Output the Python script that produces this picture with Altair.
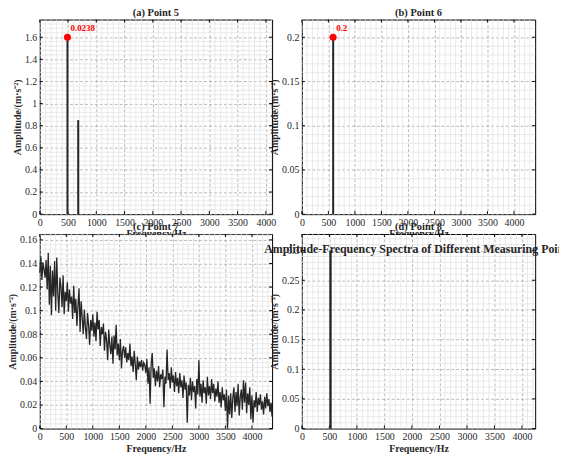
import altair as alt
import pandas as pd

FONT = "Liberation Serif"
INK = "#262626"
RED = "#ff0000"
MINOR = "#e3e3e3"

TITLE_Y = "Amplitude/(m·s⁻²)"
TITLE_X = "Frequency/Hz"
SUPTITLE = "Amplitude-Frequency Spectra of Different Measuring Points"

# ---- data ----
a_freq = [490, 680]
a_amp = [1.6, 0.85]
a_peak_freq = [490]
a_peak_amp = [1.6]
a_peak_label = ["0.0238"]

b_freq = [590]
b_amp = [0.2]
b_peak_label = ["0.2"]

c_step = 20
c_amp = [
    0.132, 0.146, 0.126, 0.141, 0.135, 0.128, 0.143, 0.118, 0.149, 0.105,
    0.138, 0.096, 0.134, 0.112, 0.142, 0.100, 0.145, 0.115, 0.098, 0.128,
    0.120, 0.103, 0.130, 0.097, 0.116, 0.108, 0.124, 0.099, 0.118, 0.106,
    0.112, 0.093, 0.121, 0.098, 0.110, 0.087, 0.104, 0.119, 0.082, 0.108,
    0.094, 0.080, 0.101, 0.086, 0.076, 0.098, 0.088, 0.071, 0.092, 0.083,
    0.097, 0.078, 0.090, 0.074, 0.099, 0.084, 0.092, 0.070, 0.086, 0.080,
    0.089, 0.066, 0.082, 0.075, 0.058, 0.084, 0.071, 0.063, 0.078, 0.055,
    0.079, 0.067, 0.088, 0.062, 0.072, 0.058, 0.076, 0.051, 0.066, 0.070,
    0.060, 0.069, 0.056, 0.064, 0.058, 0.072, 0.053, 0.061, 0.048, 0.066,
    0.055, 0.041, 0.061, 0.050, 0.057, 0.052, 0.058, 0.049, 0.056, 0.054,
    0.047, 0.059, 0.038, 0.052, 0.021, 0.055, 0.064, 0.043, 0.051, 0.036,
    0.049, 0.040, 0.053, 0.035, 0.046, 0.042, 0.050, 0.018, 0.044, 0.038,
    0.067, 0.041, 0.047, 0.034, 0.052, 0.039, 0.045, 0.031, 0.048, 0.036,
    0.043, 0.030, 0.047, 0.035, 0.041, 0.026, 0.045, 0.033, 0.039, 0.005,
    0.037, 0.028, 0.043, 0.024, 0.040, 0.031, 0.036, 0.017, 0.042, 0.029,
    0.058, 0.027, 0.038, 0.022, 0.041, 0.030, 0.035, 0.021, 0.044, 0.028,
    0.036, 0.025, 0.042, 0.030, 0.038, 0.023, 0.034, 0.027, 0.040, 0.022,
    0.031, 0.018, 0.035, 0.024, 0.029, 0.015, 0.033, 0.000, 0.028, 0.012,
    0.030, 0.009, 0.026, 0.035, 0.014, 0.031, 0.019, 0.038, 0.011, 0.027,
    0.033, 0.016, 0.041, 0.022, 0.039, 0.013, 0.030, 0.020, 0.035, 0.008,
    0.028, 0.005, 0.024, 0.018, 0.031, 0.014, 0.026, 0.020, 0.029, 0.016,
    0.023, 0.012, 0.027, 0.017, 0.030, 0.019, 0.025, 0.014, 0.022, 0.010,
]
c_freq = [i * c_step for i in range(len(c_amp))]

d_freq = [520]
d_amp = [0.3]

x_ticks = [0, 500, 1000, 1500, 2000, 2500, 3000, 3500, 4000]
ya_ticks = [0, 0.2, 0.4, 0.6, 0.8, 1.0, 1.2, 1.4, 1.6]
yb_ticks = [0, 0.05, 0.1, 0.15, 0.2]
yc_ticks = [0, 0.02, 0.04, 0.06, 0.08, 0.1, 0.12, 0.14, 0.16]
yd_ticks = [0, 0.05, 0.1, 0.15, 0.2, 0.25, 0.3]

LABEL_EXPR = "format(datum.value, '~g')"


def minor_vals(ticks, dmax):
    step = (ticks[1] - ticks[0]) / 5
    vals = []
    i = 1
    while i * step < dmax:
        if i % 5:
            vals.append(round(i * step, 6))
        i += 1
    return vals


def panel(w, h, xmax, ymax, yt, title, marks, xtitle=TITLE_X):
    xs = alt.Scale(domain=[0, xmax], nice=False, zero=False)
    ys = alt.Scale(domain=[0, ymax], nice=False, zero=False)
    xaxis = alt.Axis(values=x_ticks, title=xtitle, labelExpr=LABEL_EXPR)
    yaxis = alt.Axis(values=yt, title=TITLE_Y, labelExpr=LABEL_EXPR)

    def X(field="f"):
        return alt.X(f"{field}:Q", scale=xs, axis=xaxis)

    def Y(field="a"):
        return alt.Y(f"{field}:Q", scale=ys, axis=yaxis)

    layers = []
    # minor grid
    layers.append(
        alt.Chart(pd.DataFrame({"f": minor_vals(x_ticks, xmax)}))
        .mark_rule(color=MINOR, strokeWidth=0.8)
        .encode(x=X(), y=alt.value(0), y2=alt.value(h))
    )
    layers.append(
        alt.Chart(pd.DataFrame({"a": minor_vals(yt, ymax)}))
        .mark_rule(color=MINOR, strokeWidth=0.8)
        .encode(y=Y(), x=alt.value(0), x2=alt.value(w))
    )
    # inward ticks
    xt_df = pd.DataFrame({"f": x_ticks})
    yt_df = pd.DataFrame({"a": yt})
    tk = dict(color="black", strokeWidth=1)
    layers.append(alt.Chart(xt_df).mark_rule(**tk).encode(x=X(), y=alt.value(h), y2=alt.value(h - 3)))
    layers.append(alt.Chart(xt_df).mark_rule(**tk).encode(x=X(), y=alt.value(0), y2=alt.value(3)))
    layers.append(alt.Chart(yt_df).mark_rule(**tk).encode(y=Y(), x=alt.value(0), x2=alt.value(3)))
    layers.append(alt.Chart(yt_df).mark_rule(**tk).encode(y=Y(), x=alt.value(w), x2=alt.value(w - 3)))
    for m in marks:
        layers.append(m(X, Y, w, h))
    return alt.layer(*layers).properties(width=w, height=h, title=title)


def stems(freq, amp, width=2):
    def f(X, Y, w, h):
        return (
            alt.Chart(pd.DataFrame({"f": freq, "a": amp}))
            .mark_rule(color=INK, strokeWidth=width)
            .encode(x=X(), y=Y(), y2=alt.datum(0))
        )
    return f


def peak(freq, amp, label):
    def f(X, Y, w, h):
        base = alt.Chart(pd.DataFrame({"f": freq, "a": amp, "t": label}))
        dot = base.mark_circle(color=RED, size=50, opacity=1).encode(x=X(), y=Y())
        txt = base.mark_text(
            color=RED, font=FONT, fontWeight="bold", fontSize=9, align="left",
            baseline="middle", dx=3, dy=-9
        ).encode(x=X(), y=Y(), text="t:N")
        return alt.layer(dot, txt)
    return f


def line(freq, amp):
    def f(X, Y, w, h):
        return (
            alt.Chart(pd.DataFrame({"f": freq, "a": amp}))
            .mark_line(color=INK, strokeWidth=1.3)
            .encode(x=X(), y=Y())
        )
    return f


def suptitle(text):
    def f(X, Y, w, h):
        return (
            alt.Chart(pd.DataFrame({"t": [text]}))
            .mark_text(font=FONT, fontWeight="bold", fontSize=12, color=INK,
                       align="center", baseline="alphabetic")
            .encode(x=alt.value(w / 2), y=alt.value(19), text="t:N")
        )
    return f


pa = panel(234, 196, 4110, 1.76, ya_ticks, "(a) Point 5",
           [stems(a_freq, a_amp), peak(a_peak_freq, a_peak_amp, a_peak_label)])
pb = panel(235, 196, 4400, 0.22, yb_ticks, "(b) Point 6",
           [stems(b_freq, b_amp), peak(b_freq, b_amp, b_peak_label)])
pc = panel(234, 196, 4380, 0.165, yc_ticks, "(c) Point 7",
           [line(c_freq, c_amp)])
pd_ = panel(235, 196, 4240, 0.328, yd_ticks, "(d) Point 8",
            [stems(d_freq, d_amp, 2.4), suptitle(SUPTITLE)])

chart = (
    alt.concat(pa, pb, pc, pd_, columns=2, spacing={"row": 20, "column": 30}, bounds="flush")
    .properties(padding={"left": -1, "top": -3, "right": -15, "bottom": 0})
    .configure_view(stroke="black", strokeWidth=1, fill="white")
    .configure_axis(
        labelFont=FONT, labelFontSize=10, labelColor=INK,
        titleFont=FONT, titleFontSize=10, titleFontWeight="bold", titleColor=INK,
        domain=False, ticks=False, labelPadding=3, titlePadding=2,
        grid=True, gridColor="#9a9a9a", gridDash=[3, 2], gridWidth=0.7,
        labelFlush=False, labelOverlap=False,
    )
    .configure_title(font=FONT, fontSize=10.5, fontWeight="bold", color=INK, offset=1)
)

chart.save("out.html", embed_options={"renderer": "svg", "actions": False})
